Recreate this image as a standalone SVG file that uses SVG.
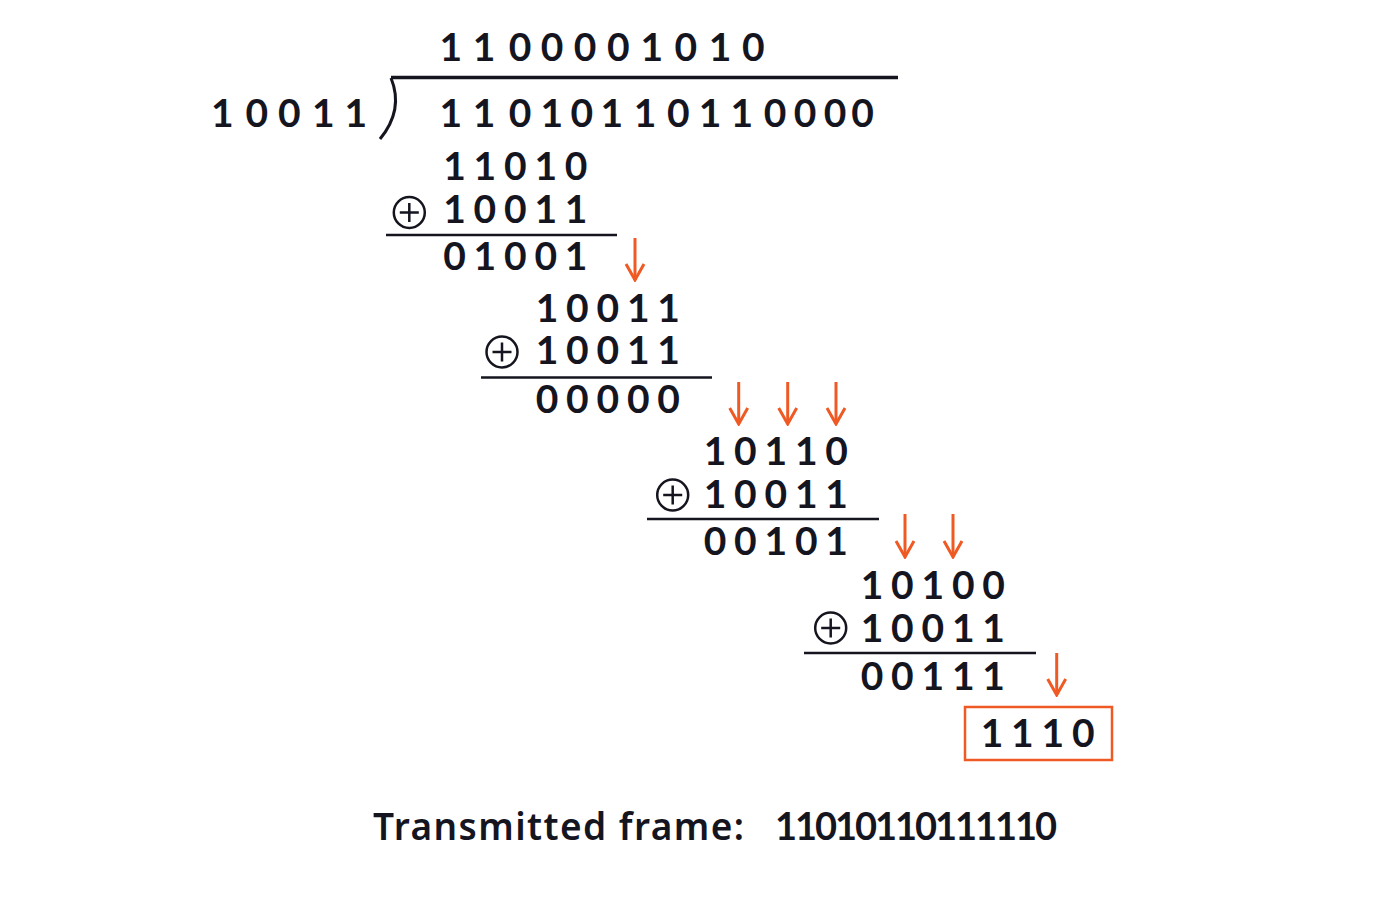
<svg xmlns="http://www.w3.org/2000/svg" width="1400" height="900" viewBox="0 0 1400 900">
  <style>
    .d { font-family: Lato, "Noto Sans", sans-serif; font-weight: 700; font-size: 39px; fill: #15151f; text-anchor: middle; }
    .f { font-family: "Noto Sans", "Open Sans", sans-serif; font-weight: 600; font-size: 37px; fill: #15151f; }
    .fd { font-family: Lato, "Noto Sans", sans-serif; font-weight: 700; font-size: 38px; fill: #15151f; }
    .rule { stroke: #15151f; stroke-width: 2.5; fill: none; }
    .xor { stroke: #15151f; stroke-width: 2.5; fill: none; }
    .arr { stroke: #ef5a24; stroke-width: 3; fill: none; marker-end: url(#ah); }
  </style>
  <defs>
    <marker id="ah" viewBox="-19 -11 21 22" refX="0" refY="0" markerWidth="21" markerHeight="22" orient="auto" markerUnits="userSpaceOnUse">
      <path d="M-16,-9 L0,0 L-16,9" fill="none" stroke="#ef5a24" stroke-width="3" stroke-linejoin="miter"/>
    </marker>
    <g id="xorsym">
      <circle cx="0" cy="0" r="15.5" class="xor"/>
      <path d="M-9.5,0 H9.5 M0,-9.5 V9.5" class="xor"/>
    </g>
  </defs>
  <rect width="1400" height="900" fill="#ffffff"/>

  <g id="quotient">
    <text class="d" x="450.7 484 520 552 585 618.3 651.7 685.7 720 753.3" y="61">1100001010</text>
  </g>
  <g id="division-bracket">
    <path d="M391,77.5 H898" stroke="#15151f" stroke-width="3.5" fill="none"/>
    <path d="M391,78 Q404,110 380,139" stroke="#15151f" stroke-width="3" fill="none"/>
  </g>
  <g id="divisor">
    <text class="d" x="222.3 256.7 289.3 323.3 355.7" y="126.7">10011</text>
  </g>
  <g id="dividend">
    <text class="d" x="450.7 484 520 551.7 581.7 611.7 645 678.3 710 741.7 775 805 835 862.5" y="126.7">11010110110000</text>
  </g>

  <g id="step1">
    <text class="d" x="454.5 484.9 515.3 545.7 576.1" y="180">11010</text>
    <use href="#xorsym" x="409.3" y="212.5"/>
    <text class="d" x="454.5 484.9 515.3 545.7 576.1" y="223">10011</text>
    <line class="rule" x1="386" y1="235" x2="617" y2="235"/>
    <text class="d" x="454.5 484.9 515.3 545.7 576.1" y="270">01001</text>
  </g>

  <g id="step2">
    <text class="d" x="547 577.4 607.8 638.2 668.6" y="322">10011</text>
    <use href="#xorsym" x="502" y="352"/>
    <text class="d" x="547 577.4 607.8 638.2 668.6" y="364">10011</text>
    <line class="rule" x1="481" y1="377.5" x2="712" y2="377.5"/>
    <text class="d" x="547 577.4 607.8 638.2 668.6" y="413">00000</text>
  </g>

  <g id="step3">
    <text class="d" x="715 745.4 775.8 806.2 836.6" y="465">10110</text>
    <use href="#xorsym" x="672.7" y="495"/>
    <text class="d" x="715 745.4 775.8 806.2 836.6" y="508">10011</text>
    <line class="rule" x1="647" y1="519" x2="879" y2="519"/>
    <text class="d" x="715 745.4 775.8 806.2 836.6" y="555">00101</text>
  </g>

  <g id="step4">
    <text class="d" x="872 902.4 932.8 963.2 993.6" y="599">10100</text>
    <use href="#xorsym" x="830.7" y="628"/>
    <text class="d" x="872 902.4 932.8 963.2 993.6" y="642">10011</text>
    <line class="rule" x1="804" y1="653" x2="1036" y2="653"/>
    <text class="d" x="872 902.4 932.8 963.2 993.6" y="690">00111</text>
  </g>

  <g id="remainder">
    <rect x="965" y="707" width="147" height="53" fill="none" stroke="#ef5a24" stroke-width="2.5"/>
    <text class="d" x="992 1022.4 1052.8 1083.2" y="747">1110</text>
  </g>

  <g id="connectors">
    <line class="arr" x1="635" y1="238" x2="635" y2="280"/>
    <line class="arr" x1="738.7" y1="382" x2="738.7" y2="424"/>
    <line class="arr" x1="787.7" y1="382" x2="787.7" y2="424"/>
    <line class="arr" x1="836" y1="382" x2="836" y2="424"/>
    <line class="arr" x1="905" y1="514" x2="905" y2="557"/>
    <line class="arr" x1="953" y1="514" x2="953" y2="557"/>
    <line class="arr" x1="1056.7" y1="653" x2="1056.7" y2="695"/>
  </g>

  <g id="footer">
    <text class="f" x="373" y="840" textLength="371">Transmitted frame:</text>
    <text class="fd" x="775" y="840" textLength="282">11010110111110</text>
  </g>
</svg>
